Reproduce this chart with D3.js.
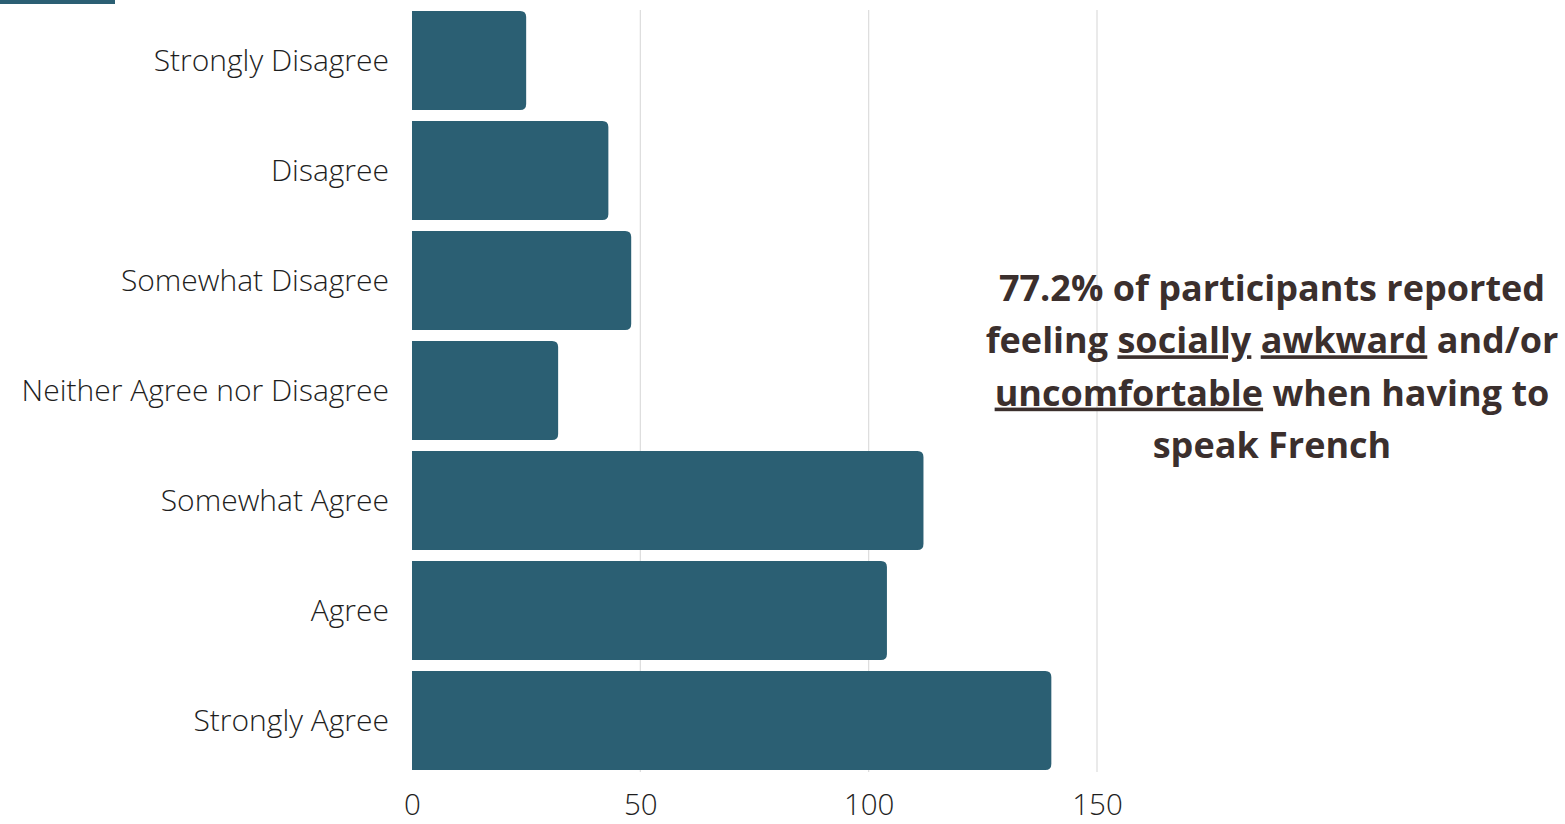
<!DOCTYPE html>
<html><head><meta charset="utf-8">
<script src="https://cdn.jsdelivr.net/npm/d3@7"></script>
<style>
html,body{margin:0;padding:0;background:#fff;}
svg{display:block;}
</style></head>
<body>
<svg id="chart" width="1565" height="824"></svg>
<script>
const categories = ["Strongly Disagree","Disagree","Somewhat Disagree","Neither Agree nor Disagree","Somewhat Agree","Agree","Strongly Agree"];
const values = [25, 43, 48, 32, 112, 104, 140];
const tickValues = [0, 50, 100, 150];
const annotationLines = [
  [{t:"77.2% of participants reported", u:false}],
  [{t:"feeling ", u:false},{t:"socially", u:true},{t:" ", u:false},{t:"awkward", u:true},{t:" and/or", u:false}],
  [{t:"uncomfortable", u:true},{t:" when having to", u:false}],
  [{t:"speak French", u:false}]
];

const svg = d3.select("#chart");
const barColor = "#2b5f73";

const x = d3.scaleLinear().domain([0,150]).range([412,1097]);
const y = d3.scaleBand().domain(categories).range([5.5,775.5]).paddingInner(0.1).paddingOuter(0.05);

// decorative strip
svg.append("rect").attr("x",0).attr("y",0).attr("width",115).attr("height",4).attr("fill",barColor);

// gridlines
svg.append("g").selectAll("line").data(tickValues.filter(d=>d>0)).join("line")
  .attr("x1",d=>x(d)).attr("x2",d=>x(d))
  .attr("y1",10).attr("y2",772)
  .attr("stroke","#dcdcdc").attr("stroke-width",1.2);

// bars with right rounded corners
const r = 6;
svg.append("g").selectAll("path").data(categories).join("path")
  .attr("fill",barColor)
  .attr("d",(d,i)=>{
    const x0 = x(0), x1 = x(values[i]), y0 = y(d), h = y.bandwidth();
    return `M${x0},${y0}H${x1-r}Q${x1},${y0} ${x1},${y0+r}V${y0+h-r}Q${x1},${y0+h} ${x1-r},${y0+h}H${x0}Z`;
  });

// y labels
svg.append("g").selectAll("text").data(categories).join("text")
  .attr("x",389).attr("y",d=>y(d)+y.bandwidth()/2)
  .attr("dy","0.35em").attr("text-anchor","end")
  .attr("font-family","'Open Sans', sans-serif").attr("font-weight",300)
  .attr("font-size",30).attr("fill","#1e1e1e")
  .text(d=>d);

// x axis
const xAxis = d3.axisBottom(x).tickValues(tickValues).tickSize(0).tickPadding(0);
const gx = svg.append("g").attr("transform","translate(0,788)").call(xAxis);
gx.select(".domain").remove();
gx.selectAll("text").attr("font-family","'Open Sans', sans-serif").attr("font-weight",300)
  .attr("font-size",29.5).attr("fill","#1e1e1e").attr("dy","0.9em");

// annotation
const ann = svg.append("g");
annotationLines.forEach((line,li)=>{
  const t = ann.append("text").attr("x",1272).attr("y",301+li*52.3)
    .attr("text-anchor","middle")
    .attr("font-family","'Open Sans', sans-serif").attr("font-weight",700)
    .attr("font-size",36).attr("fill","#3b2f2d");
  line.forEach(seg=>{
    t.append("tspan").text(seg.t).style("text-decoration",seg.u?"underline":"none");
  });
});
</script>
</body></html>
